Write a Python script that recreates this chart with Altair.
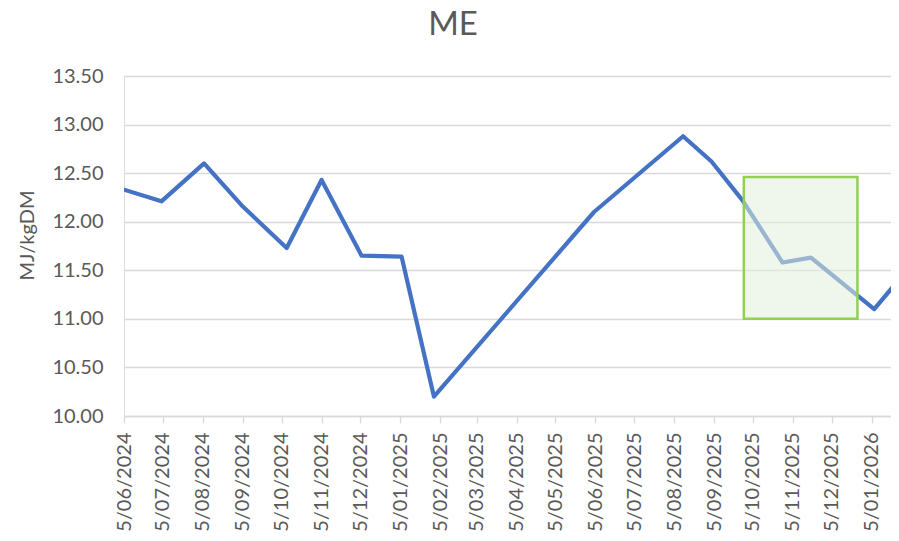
import altair as alt
import pandas as pd

# ---- data ----
dates = [
    "2024-06-05", "2024-07-04", "2024-08-06", "2024-09-04", "2024-10-09",
    "2024-11-05", "2024-12-06", "2025-01-06", "2025-01-31", "2025-06-04",
    "2025-08-12", "2025-09-03", "2025-09-27", "2025-10-28", "2025-11-19",
    "2026-01-07", "2026-02-05",
]
me_values = [
    12.33, 12.21, 12.60, 12.17, 11.73,
    12.43, 11.65, 11.64, 10.20, 12.10,
    12.88, 12.62, 12.22, 11.58, 11.63,
    11.10, 11.56,
]

tick_dates = [
    (2024, 6), (2024, 7), (2024, 8), (2024, 9), (2024, 10), (2024, 11), (2024, 12),
    (2025, 1), (2025, 2), (2025, 3), (2025, 4), (2025, 5), (2025, 6), (2025, 7),
    (2025, 8), (2025, 9), (2025, 10), (2025, 11), (2025, 12), (2026, 1),
]
y_ticks = [10.0, 10.5, 11.0, 11.5, 12.0, 12.5, 13.0, 13.5]

box_start = ["2025-09-28"]
box_end = ["2025-12-25"]
box_low = [11.00]
box_high = [12.46]

title_text = ["ME"]

x_domain = ["2024-06-05", "2026-01-20"]

# ---- tables ----
df = pd.DataFrame({"date": [d + "T00:00:00" for d in dates], "ME": me_values})
box_df = pd.DataFrame({
    "x0": [d + "T00:00:00" for d in box_start],
    "x1": [d + "T00:00:00" for d in box_end],
    "y0": box_low,
    "y1": box_high,
})
title_df = pd.DataFrame({"label": title_text})

FONT = "Lato"
GREY = "#595959"
GRID = "#D9D9D9"

x_scale = alt.Scale(domain=[alt.DateTime(year=int(s[:4]), month=int(s[5:7]), date=int(s[8:10]))
                            for s in x_domain])
y_scale = alt.Scale(domain=[10, 13.5], nice=False, zero=False)

x_axis = alt.Axis(
    title=None,
    values=[alt.DateTime(year=y, month=m, date=5) for y, m in tick_dates],
    format="%-d/%m/%Y",
    labelAngle=-90,
    labelFont=FONT, labelFontSize=20, labelColor=GREY,
    labelPadding=9, labelOverlap=False, labelFlush=False,
    domainColor=GRID, domainWidth=1.3,
    tickColor=GRID, tickWidth=1.3, tickSize=7,
    grid=False,
)
y_axis = alt.Axis(
    title="MJ/kgDM",
    values=y_ticks,
    format=".2f",
    labelFont=FONT, labelFontSize=20, labelColor=GREY, labelPadding=21,
    titleFont=FONT, titleFontSize=20, titleColor=GREY, titleFontWeight="normal",
    titleAngle=-90, titleAlign="center", titleBaseline="alphabetic",
    titleX=-91, titleY=159,
    domain=False, ticks=False,
    grid=True, gridColor=GRID, gridWidth=1.3,
)

line = alt.Chart(df).mark_line(
    color="#4472C4", strokeWidth=4.2, strokeJoin="round", strokeCap="round", clip=True
).encode(
    x=alt.X("date:T", scale=x_scale, axis=x_axis),
    y=alt.Y("ME:Q", scale=y_scale, axis=y_axis),
)

box = alt.Chart(box_df).mark_rect(
    fill="#E2EFDA", fillOpacity=0.54, stroke="#92D050", strokeWidth=2.5, strokeOpacity=1
).encode(
    x=alt.X("x0:T", scale=x_scale),
    x2="x1:T",
    y=alt.Y("y0:Q", scale=y_scale),
    y2="y1:Q",
)

title = alt.Chart(title_df).mark_text(
    font=FONT, fontSize=33, color=GREY, align="center", baseline="alphabetic"
).encode(
    text="label:N",
    x=alt.value(329),
    y=alt.value(-41),
)

chart = alt.layer(line, box, title).properties(
    width=767,
    height=340,
    padding={"left": 116, "top": 68, "right": 0, "bottom": 117},
    autosize=alt.AutoSizeParams(type="none"),
).configure_view(stroke=None).configure(background="white")

chart.save("out.html", embed_options={"renderer": "svg", "actions": False})
